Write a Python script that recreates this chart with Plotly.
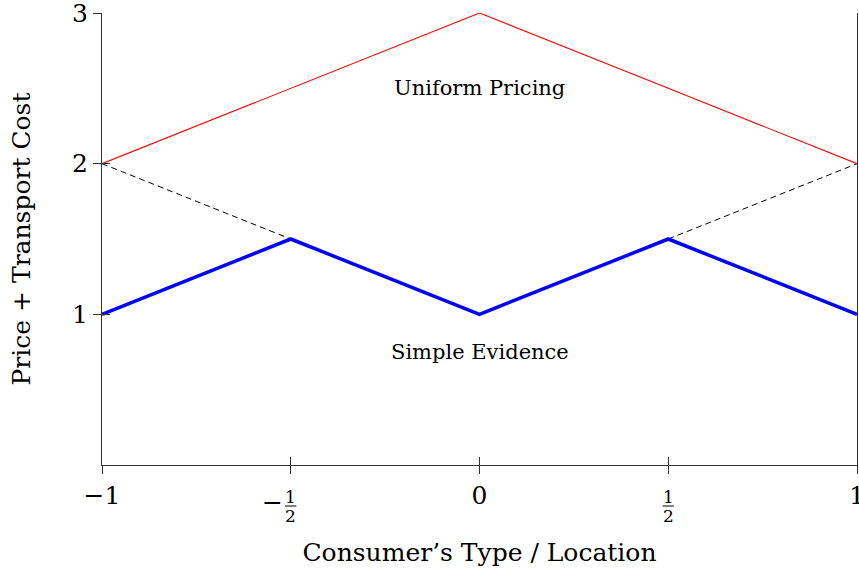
import plotly.graph_objects as go

# Data
x_pts = [-1, -0.5, 0, 0.5, 1]
uniform_pricing = [2, 2.5, 3, 2.5, 2]
simple_evidence = [1, 1.5, 1, 1.5, 1]
dashed_x = [-1, -0.5, None, 0.5, 1]
dashed_y = [2, 1.5, None, 1.5, 2]

x_tickvals = [-1, -0.5, 0, 0.5, 1]
x_ticktext = ["\u22121", "", "0", "", "1"]
y_tickvals = [1, 2, 3]
y_ticktext = ["1", "2", "3"]

FONT = "DejaVu Serif"
AXC = "#333333"

fig = go.Figure()
fig.add_trace(go.Scatter(x=dashed_x, y=dashed_y, mode="lines",
                         line=dict(color="black", width=1, dash="6px,4px"),
                         showlegend=False, hoverinfo="skip"))
fig.add_trace(go.Scatter(x=x_pts, y=uniform_pricing, mode="lines",
                         line=dict(color="#ff0000", width=1.1), showlegend=False))
fig.add_trace(go.Scatter(x=x_pts, y=simple_evidence, mode="lines",
                         line=dict(color="#0000ff", width=3.5), showlegend=False))

fig.update_layout(
    width=859, height=571,
    margin=dict(l=102, r=2, t=13, b=106),
    paper_bgcolor="white", plot_bgcolor="white",
    font=dict(family=FONT, color="black"),
    xaxis=dict(range=[-1, 1], tickvals=x_tickvals, ticktext=x_ticktext,
               ticks="outside", ticklen=8, tickcolor=AXC, tickwidth=1,
               showline=True, linecolor=AXC, linewidth=1, showgrid=False,
               zeroline=False, tickfont=dict(size=25, family=FONT),
               ticklabeloverflow="allow",
               title=dict(text="Consumer\u2019s Type / Location",
                          font=dict(size=25, family=FONT), standoff=34),
               automargin=False),
    yaxis=dict(range=[0, 3], tickvals=y_tickvals, ticktext=y_ticktext,
               ticks="outside", ticklen=8, tickcolor=AXC, tickwidth=1,
               showline=True, linecolor=AXC, linewidth=1, mirror=True,
               showgrid=False, zeroline=False,
               tickfont=dict(size=25, family=FONT),
               ticklabeloverflow="allow",
               title=dict(text="Price + Transport Cost",
                          font=dict(size=25, family=FONT), standoff=34),
               automargin=False),
    xaxis2=dict(range=[-1, 1], overlaying="x", tickvals=x_tickvals,
                ticks="inside", ticklen=8, tickcolor=AXC, showticklabels=False,
                showline=False, showgrid=False, zeroline=False, side="bottom"),
    yaxis2=dict(range=[0, 3], overlaying="y", tickvals=y_tickvals,
                ticks="inside", ticklen=8, tickcolor=AXC, showticklabels=False,
                showline=False, showgrid=False, zeroline=False, side="left"),
)
# invisible trace to register the overlay axes
fig.add_trace(go.Scatter(x=[x_pts[0]], y=[simple_evidence[0]], xaxis="x2", yaxis="y2",
                         mode="markers", marker=dict(opacity=0), showlegend=False,
                         hoverinfo="skip"))

# region labels
fig.add_annotation(x=0, y=2.5, text="Uniform Pricing", showarrow=False,
                   font=dict(size=21, family=FONT))
fig.add_annotation(x=0, y=0.75, text="Simple Evidence", showarrow=False,
                   font=dict(size=21, family=FONT))

# fraction tick labels for -1/2 and 1/2
for xv, sign in [(-0.5, "\u2212"), (0.5, "")]:
    fig.add_annotation(x=xv, y=0, yref="paper", text="1", showarrow=False,
                       yanchor="middle", yshift=-32, font=dict(size=17, family=FONT))
    fig.add_annotation(x=xv, y=0, yref="paper", text="2", showarrow=False,
                       yanchor="middle", yshift=-51, font=dict(size=17, family=FONT))
    fig.add_shape(type="line", xref="x", yref="paper",
                  x0=xv - 0.015, x1=xv + 0.015,
                  y0=-41 / 452, y1=-41 / 452, line=dict(color="black", width=1))
    if sign:
        fig.add_annotation(x=xv, y=0, yref="paper", text=sign, showarrow=False,
                           xanchor="right", xshift=-6, yanchor="middle", yshift=-37,
                           font=dict(size=25, family=FONT))

fig.write_html("out.html", config={"displayModeBar": False},
               post_script="document.body.style.margin='0';")
